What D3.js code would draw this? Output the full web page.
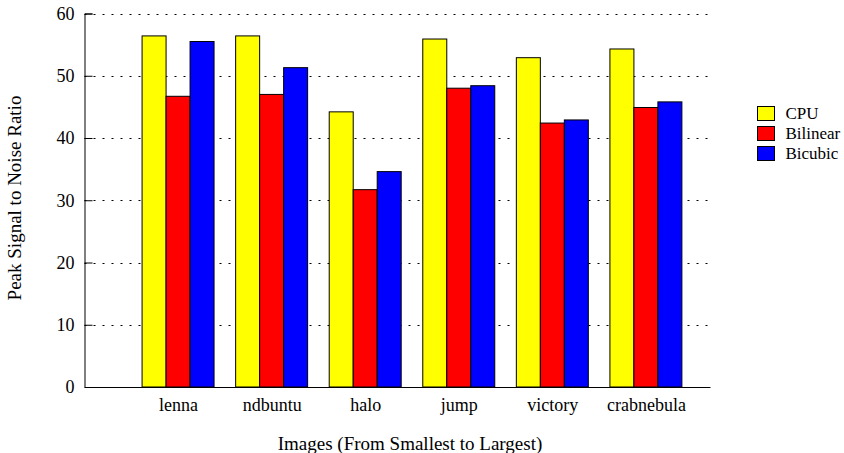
<!DOCTYPE html>
<html><head><meta charset="utf-8">
<script src="https://cdn.jsdelivr.net/npm/d3@7"></script>
<style>body{margin:0;background:#fff}svg text{font-family:"Liberation Serif","Times New Roman",serif;fill:#000}</style>
</head><body><svg id="c" width="844" height="453"></svg>
<script>
const categories = ["lenna","ndbuntu","halo","jump","victory","crabnebula"];
const seriesNames = ["CPU","Bilinear","Bicubic"];
const cpu = [56.4, 56.4, 44.2, 55.9, 52.9, 54.3];
const bilinear = [46.7, 47.0, 31.7, 48.0, 42.4, 44.9];
const bicubic = [55.5, 51.3, 34.6, 48.4, 42.9, 45.8];
const yTicks = [0,10,20,30,40,50,60];
const colors = ["#ffff00","#ff0000","#0000ff"];
const series = [cpu, bilinear, bicubic];

const svg = d3.select("#c");
const L = 84.5, R = 710, T = 13.5, B = 387;
const x = d3.scaleLinear().domain([-1, 5.685]).range([L, R]);
const y = d3.scaleLinear().domain([0, 60]).range([B, T]);
const bw = 24 / 93.6;

// grid
svg.append("g").selectAll("line").data(yTicks.filter(d => d > 0)).join("line")
  .attr("x1", L).attr("x2", R).attr("y1", d => Math.round(y(d)) + 0.5).attr("y2", d => Math.round(y(d)) + 0.5)
  .attr("stroke", "#000").attr("stroke-width", 1).attr("stroke-dasharray", "2,7");

// bars
series.forEach((vals, si) => {
  svg.append("g").selectAll("rect").data(vals).join("rect")
    .attr("x", (d, i) => x(i + (si - 1.5) * bw))
    .attr("width", x(bw) - x(0))
    .attr("y", d => y(d))
    .attr("height", d => y(0) - y(d))
    .attr("fill", colors[si]).attr("stroke", "#000").attr("stroke-width", 1);
});

// axes
const yAxis = d3.axisLeft(y).tickValues(yTicks).tickSize(-8).tickPadding(10);
const gy = svg.append("g").attr("transform", `translate(${L},0)`).call(yAxis);
gy.select(".domain").attr("stroke", "#000");
gy.selectAll(".tick line").attr("stroke", "#000");
gy.selectAll("text").attr("font-size", 18).attr("font-family", "Liberation Serif");

const xAxis = d3.axisBottom(x).tickValues(d3.range(categories.length)).tickFormat(i => categories[i]).tickSize(0).tickPadding(11);
const gx = svg.append("g").attr("transform", `translate(0,${B})`).call(xAxis);
gx.select(".domain").attr("stroke", "#000");
gx.selectAll("text").attr("font-size", 18).attr("font-family", "Liberation Serif");

// axis titles
svg.append("text").attr("x", 410).attr("y", 449.5).attr("text-anchor", "middle")
  .attr("font-size", 19).text("Images (From Smallest to Largest)");
svg.append("text").attr("transform", "translate(21,198) rotate(-90)").attr("text-anchor", "middle")
  .attr("font-size", 19).text("Peak Signal to Noise Ratio");

// legend
const lg = svg.append("g").selectAll("g").data(seriesNames).join("g")
  .attr("transform", (d, i) => `translate(757.5,${106.5 + i * 20})`);
lg.append("rect").attr("width", 17).attr("height", 14).attr("fill", (d, i) => colors[i]).attr("stroke", "#000");
lg.append("text").attr("x", 28).attr("y", 12.5).attr("font-size", 17).text(d => d);
</script></body></html>
